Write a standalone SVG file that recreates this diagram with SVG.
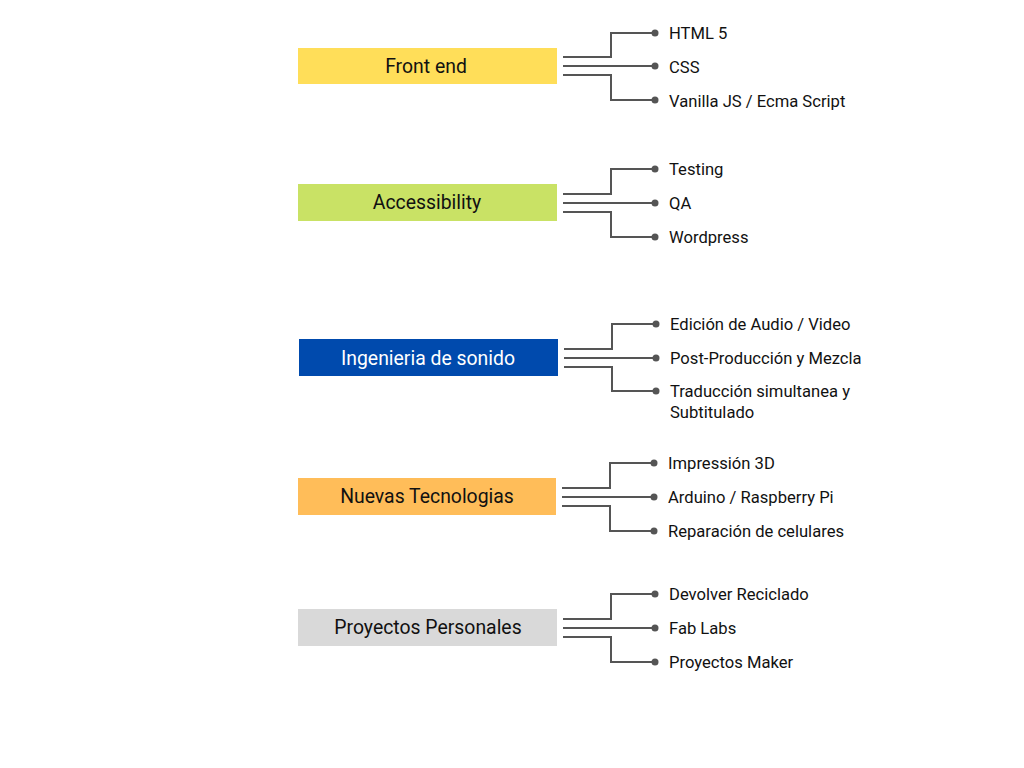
<svg xmlns="http://www.w3.org/2000/svg" width="1024" height="768" viewBox="0 0 1024 768">
<style>
.lbl{font-family:Roboto,"Liberation Sans",sans-serif;font-size:19.4px;fill:#111;text-anchor:middle;dominant-baseline:central}
.item{font-family:Roboto,"Liberation Sans",sans-serif;font-size:16.6px;fill:#111;dominant-baseline:central}
.c{fill:none;stroke:#555;stroke-width:2}
.dot{fill:#555}
</style>
<rect width="1024" height="768" fill="#fff"/>
<g id="connectors">
<path class="c" d="M563 57H611V33H655M563 66H655M563 75H611V100H655"/>
<path class="c" d="M563 194H611V169H655M563 203H655M563 212H611V237H655"/>
<path class="c" d="M564 349H612V324H656M564 358H656M564 367H612V391H656"/>
<path class="c" d="M562 488H610V463H654M562 497H654M562 506H610V531H654"/>
<path class="c" d="M563 619H611V594H655M563 628H655M563 637H611V662H655"/>
<g class="dot">
<circle cx="655" cy="33" r="3.5"/><circle cx="655" cy="66" r="3.5"/><circle cx="655" cy="100" r="3.5"/>
<circle cx="655" cy="169" r="3.5"/><circle cx="655" cy="203" r="3.5"/><circle cx="655" cy="237" r="3.5"/>
<circle cx="656" cy="324" r="3.5"/><circle cx="656" cy="358" r="3.5"/><circle cx="656" cy="391" r="3.5"/>
<circle cx="654" cy="463" r="3.5"/><circle cx="654" cy="497" r="3.5"/><circle cx="654" cy="531" r="3.5"/>
<circle cx="655" cy="594" r="3.5"/><circle cx="655" cy="628" r="3.5"/><circle cx="655" cy="662" r="3.5"/>
</g>
</g>
<g id="frontend">
<rect x="298" y="48" width="259" height="36" fill="#FFDE59"/>
<text class="lbl" x="426" y="66">Front end</text>
</g>
<g id="frontend-items">
<text class="item" x="669" y="33">HTML 5</text>
<text class="item" x="669" y="67">CSS</text>
<text class="item" x="669" y="101">Vanilla JS / Ecma Script</text>
</g>
<g id="accessibility">
<rect x="298" y="184" width="259" height="37" fill="#C9E265"/>
<text class="lbl" x="427" y="202">Accessibility</text>
</g>
<g id="accessibility-items">
<text class="item" x="669" y="169">Testing</text>
<text class="item" x="669" y="203">QA</text>
<text class="item" x="669" y="237">Wordpress</text>
</g>
<g id="sonido">
<rect x="299" y="339" width="259" height="37" fill="#004AAD"/>
<text class="lbl" x="428" y="358" style="fill:#fff">Ingenieria de sonido</text>
</g>
<g id="sonido-items">
<text class="item" x="670" y="324">Edición de Audio / Video</text>
<text class="item" x="670" y="358">Post-Producción y Mezcla</text>
<text class="item" x="670" y="391">Traducción simultanea y</text>
<text class="item" x="670" y="412">Subtitulado</text>
</g>
<g id="nuevas">
<rect x="298" y="478" width="258" height="37" fill="#FFBD59"/>
<text class="lbl" x="427" y="496">Nuevas Tecnologias</text>
</g>
<g id="nuevas-items">
<text class="item" x="668" y="463">Impressión 3D</text>
<text class="item" x="668" y="497">Arduino / Raspberry Pi</text>
<text class="item" x="668" y="531">Reparación de celulares</text>
</g>
<g id="proyectos">
<rect x="298" y="609" width="259" height="37" fill="#D9D9D9"/>
<text class="lbl" x="428" y="627">Proyectos Personales</text>
</g>
<g id="proyectos-items">
<text class="item" x="669" y="594">Devolver Reciclado</text>
<text class="item" x="669" y="628">Fab Labs</text>
<text class="item" x="669" y="662">Proyectos Maker</text>
</g>
</svg>
